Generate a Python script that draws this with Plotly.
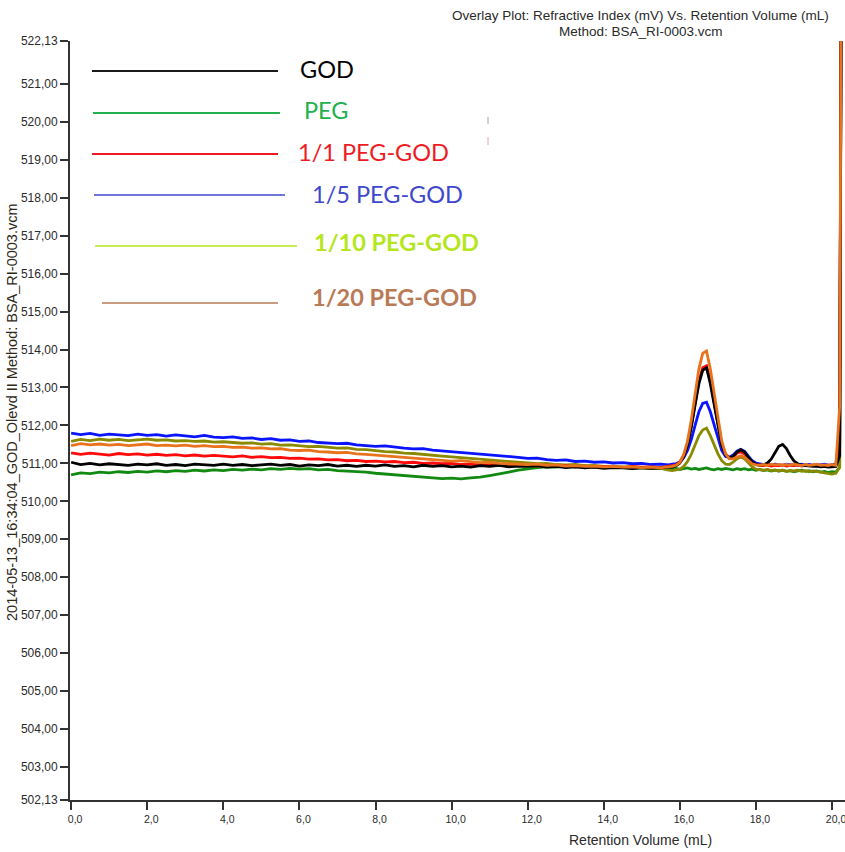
import numpy as np
import plotly.graph_objects as go

# ---------------------------------------------------------------------------
# Refractive index detector signal (mV) vs. retention volume (mL)
# Baseline region sampled every 0.25 mL, peak region every 0.1 mL,
# followed by the solvent front at the end of the run.
# ---------------------------------------------------------------------------
vol_base = np.round(np.arange(0.0, 15.5 + 1e-9, 0.25), 2)
vol_peak = np.round(np.arange(15.6, 20.1 + 1e-9, 0.1), 2)
vol_front = [20.2, 20.26]

god_base = [511.03, 510.97, 511.00, 510.96, 510.99, 510.97, 510.95, 510.98, 510.96, 510.99, 510.95, 510.97, 510.94, 510.98, 510.96, 510.95,
            510.98, 510.95, 510.97, 510.94, 510.96, 510.98, 510.95, 510.97, 510.93, 510.96, 510.94, 510.97, 510.93, 510.95, 510.92, 510.95,
            510.93, 510.96, 510.92, 510.94, 510.91, 510.95, 510.92, 510.94, 510.91, 510.93, 510.90, 510.94, 510.92, 510.95, 510.91, 510.93,
            510.92, 510.94, 510.90, 510.92, 510.89, 510.91, 510.88, 510.90, 510.87, 510.89, 510.88, 510.86, 510.89, 510.87, 510.88]
god_peak = [510.89, 510.91, 510.90, 510.94, 511.01, 511.18, 511.48, 511.95, 512.54, 513.10,
            513.45, 513.52, 513.10, 512.54, 511.95, 511.49, 511.23, 511.14, 511.18, 511.30,
            511.36, 511.30, 511.16, 511.04, 510.97, 510.95, 510.96, 511.01, 511.11, 511.28,
            511.45, 511.50, 511.39, 511.21, 511.06, 510.99, 510.95, 510.94, 510.93, 510.92,
            510.93, 510.91, 510.92, 510.90, 510.91, 510.92]
god_front = [511.20, 530.0]

peg_base = [510.70, 510.75, 510.73, 510.77, 510.75, 510.78, 510.76, 510.79, 510.77, 510.80, 510.78, 510.81, 510.79, 510.82, 510.80, 510.83,
            510.81, 510.84, 510.82, 510.85, 510.83, 510.86, 510.84, 510.87, 510.85, 510.86, 510.83, 510.84, 510.81, 510.80, 510.78, 510.77,
            510.74, 510.72, 510.70, 510.67, 510.66, 510.63, 510.62, 510.60, 510.61, 510.59, 510.62, 510.64, 510.68, 510.72, 510.77, 510.82,
            510.86, 510.89, 510.91, 510.90, 510.93, 510.91, 510.92, 510.90, 510.92, 510.89, 510.90, 510.87, 510.88, 510.86, 510.87]
peg_peak = [510.86, 510.88, 510.85, 510.87, 510.84, 510.86, 510.88, 510.85, 510.87, 510.84,
            510.86, 510.88, 510.85, 510.83, 510.86, 510.84, 510.87, 510.85, 510.83, 510.86,
            510.84, 510.86, 510.83, 510.85, 510.82, 510.84, 510.81, 510.83, 510.80, 510.82,
            510.80, 510.82, 510.79, 510.81, 510.78, 510.80, 510.82, 510.79, 510.81, 510.78,
            510.80, 510.77, 510.79, 510.76, 510.78, 510.77]
peg_front = [510.90, 530.0]

r1_1_base = [511.28, 511.24, 511.27, 511.25, 511.22, 511.26, 511.23, 511.25, 511.22, 511.24, 511.21, 511.23, 511.20, 511.22, 511.19, 511.21,
             511.19, 511.17, 511.20, 511.16, 511.18, 511.15, 511.16, 511.13, 511.14, 511.11, 511.12, 511.09, 511.10, 511.07, 511.08, 511.05,
             511.06, 511.04, 511.05, 511.02, 511.03, 511.00, 511.01, 510.99, 511.00, 510.97, 510.98, 510.96, 510.97, 510.95, 510.96, 510.94,
             510.95, 510.93, 510.95, 510.92, 510.94, 510.91, 510.93, 510.90, 510.92, 510.91, 510.89, 510.92, 510.90, 510.91, 510.89]
r1_1_peak = [510.91, 510.93, 510.93, 510.96, 511.04, 511.20, 511.51, 511.99, 512.59, 513.16,
             513.52, 513.57, 513.16, 512.59, 511.99, 511.51, 511.25, 511.15, 511.17, 511.27,
             511.30, 511.25, 511.13, 511.03, 510.97, 510.96, 510.94, 510.96, 510.93, 510.95,
             510.94, 510.96, 510.93, 510.95, 510.94, 510.96, 510.93, 510.95, 510.94, 510.96,
             510.93, 510.95, 510.94, 510.96, 510.93, 510.95]
r1_1_front = [511.50, 530.0]

r1_5_base = [511.80, 511.76, 511.79, 511.74, 511.77, 511.75, 511.73, 511.77, 511.74, 511.76, 511.72, 511.75, 511.73, 511.70, 511.74, 511.69,
             511.68, 511.70, 511.66, 511.67, 511.63, 511.65, 511.61, 511.62, 511.58, 511.59, 511.55, 511.54, 511.52, 511.53, 511.49, 511.47,
             511.45, 511.46, 511.42, 511.40, 511.38, 511.39, 511.35, 511.33, 511.32, 511.29, 511.27, 511.25, 511.22, 511.20, 511.18, 511.16,
             511.13, 511.14, 511.10, 511.08, 511.09, 511.05, 511.06, 511.03, 511.04, 511.01, 511.02, 510.99, 511.00, 510.97, 510.98]
r1_5_peak = [510.97, 510.96, 510.98, 510.99, 511.04, 511.15, 511.34, 511.63, 512.00, 512.36,
             512.58, 512.61, 512.36, 512.01, 511.64, 511.34, 511.18, 511.16, 511.22, 511.32,
             511.37, 511.32, 511.19, 511.07, 511.01, 510.98, 510.97, 510.99, 510.96, 510.98,
             510.97, 510.95, 510.98, 510.96, 510.97, 510.95, 510.98, 510.96, 510.97, 510.95,
             510.97, 510.96, 510.98, 510.95, 510.97, 510.98]
r1_5_front = [511.70, 530.0]

r1_10_base = [511.58, 511.63, 511.60, 511.64, 511.61, 511.63, 511.60, 511.62, 511.64, 511.61, 511.62, 511.59, 511.60, 511.58, 511.59, 511.56,
              511.57, 511.55, 511.53, 511.54, 511.51, 511.52, 511.48, 511.49, 511.46, 511.44, 511.45, 511.42, 511.40, 511.41, 511.37, 511.36,
              511.33, 511.31, 511.30, 511.27, 511.26, 511.23, 511.22, 511.19, 511.17, 511.15, 511.14, 511.11, 511.10, 511.07, 511.06, 511.03,
              511.01, 510.99, 511.00, 510.97, 510.96, 510.97, 510.94, 510.95, 510.92, 510.93, 510.90, 510.91, 510.88, 510.86, 510.87]
r1_10_peak = [510.84, 510.82, 510.81, 510.82, 510.85, 510.92, 511.05, 511.24, 511.49, 511.73,
              511.88, 511.93, 511.73, 511.49, 511.25, 511.07, 510.98, 510.97, 511.03, 511.12,
              511.17, 511.12, 511.01, 510.91, 510.85, 510.83, 510.82, 510.84, 510.81, 510.83,
              510.80, 510.82, 510.79, 510.81, 510.80, 510.82, 510.79, 510.81, 510.78, 510.80,
              510.79, 510.77, 510.75, 510.74, 510.72, 510.74]
r1_10_front = [510.90, 530.0]

r1_20_base = [511.47, 511.52, 511.49, 511.51, 511.48, 511.50, 511.47, 511.49, 511.51, 511.47, 511.48, 511.46, 511.48, 511.45, 511.47, 511.44,
              511.45, 511.42, 511.43, 511.40, 511.41, 511.38, 511.39, 511.35, 511.34, 511.35, 511.31, 511.30, 511.28, 511.29, 511.25, 511.24,
              511.22, 511.20, 511.19, 511.16, 511.15, 511.12, 511.11, 511.08, 511.06, 511.07, 511.04, 511.02, 511.03, 511.00, 510.99, 510.98,
              510.97, 510.98, 510.95, 510.96, 510.93, 510.94, 510.92, 510.93, 510.91, 510.92, 510.90, 510.91, 510.89, 510.90, 510.88]
r1_20_peak = [510.90, 510.91, 510.92, 510.95, 511.03, 511.23, 511.58, 512.14, 512.83, 513.49,
              513.90, 513.96, 513.49, 512.83, 512.14, 511.59, 511.25, 511.12, 511.12, 511.17,
              511.20, 511.16, 511.07, 510.99, 510.96, 510.95, 510.97, 510.95, 510.98, 510.96,
              510.97, 510.94, 510.97, 510.95, 510.98, 510.96, 510.94, 510.97, 510.95, 510.96,
              510.98, 510.95, 510.96, 510.94, 510.97, 510.95]
r1_20_front = [512.50, 530.0]

# Axis ticks (mV on the y axis, mL on the x axis)
y_tick_vals = [502.13] + list(range(503, 522)) + [522.13]
y_tick_text = ["502,13"] + [f"{v},00" for v in range(503, 522)] + ["522,13"]
x_tick_vals = list(range(0, 21, 2))
x_tick_text = [f"{v},0" for v in x_tick_vals]

# Legend entries drawn as a hand-made key
legend_labels = ["GOD", "PEG", "1/1 PEG-GOD", "1/5 PEG-GOD", "1/10 PEG-GOD", "1/20 PEG-GOD"]

# Trace data: (name, baseline, peak, front, line colour); drawn in this order
series = [
    ("PEG", peg_base, peg_peak, peg_front, "#128a12"),
    ("1/10 PEG-GOD", r1_10_base, r1_10_peak, r1_10_front, "#8a8a00"),
    ("1/5 PEG-GOD", r1_5_base, r1_5_peak, r1_5_front, "#0a14ff"),
    ("1/1 PEG-GOD", r1_1_base, r1_1_peak, r1_1_front, "#ff0a0a"),
    ("GOD", god_base, god_peak, god_front, "#000000"),
    ("1/20 PEG-GOD", r1_20_base, r1_20_peak, r1_20_front, "#e8731c"),
]

volume = np.concatenate([vol_base, vol_peak, vol_front])

fig = go.Figure()
for name, base, peak, front, colour in series:
    assert len(base) == len(vol_base) and len(peak) == len(vol_peak), name
    signal = np.concatenate([base, peak, front])
    fig.add_trace(go.Scatter(
        x=volume, y=signal, mode="lines", name=name,
        line=dict(color=colour, width=2.8),
        showlegend=False, hoverinfo="skip",
    ))

# Plot-area geometry in pixels (for placing the key and the labels)
W, H = 845, 852
L, R, T, B = 70, 845, 41, 800


def px(x):
    return (x - L) / (R - L)


def py(y):
    return (B - y) / (B - T)


SANS = "Liberation Sans, Arial, sans-serif"
axis_font = dict(family=SANS, size=12, color="#2a2a2a")

fig.update_layout(
    width=W, height=H,
    margin=dict(l=L, r=W - R, t=T, b=H - B, pad=0),
    paper_bgcolor="white", plot_bgcolor="white",
    xaxis=dict(
        range=[-0.03, 20.34], showgrid=False, zeroline=False,
        showline=True, linecolor="#333333", linewidth=2,
        ticks="outside", ticklen=8, tickwidth=2, tickcolor="#333333",
        tickvals=x_tick_vals, ticktext=x_tick_text,
        tickfont=dict(family=SANS, size=10.5, color="#2a2a2a"),
        ticklabelshift=4, ticklabeloverflow="allow",
    ),
    yaxis=dict(
        range=[502.13, 522.13], showgrid=False, zeroline=False,
        showline=True, linecolor="#333333", linewidth=2,
        ticks="outside", ticklen=8, tickwidth=2, tickcolor="#333333",
        tickvals=y_tick_vals, ticktext=y_tick_text, tickfont=axis_font,
    ),
)

annotations = [
    dict(text="Overlay Plot: Refractive Index (mV) Vs. Retention Volume (mL)",
         x=px(640), y=py(15), xanchor="center", yanchor="middle",
         font=dict(family=SANS, size=13.5, color="#2a2a2a")),
    dict(text="Method: BSA_RI-0003.vcm",
         x=px(641), y=py(31), xanchor="center", yanchor="middle",
         font=dict(family=SANS, size=13.5, color="#2a2a2a")),
    dict(text="Retention Volume (mL)",
         x=px(640), y=py(840), xanchor="center", yanchor="middle",
         font=dict(family=SANS, size=14, color="#2a2a2a")),
    dict(text="2014-05-13_16:34:04_GOD_Olevd II Method: BSA_RI-0003.vcm",
         x=px(12), y=py(412), xanchor="center", yanchor="middle", textangle=-90,
         font=dict(family=SANS, size=14.5, color="#2e2818")),
]

# Hand-made key: line segment + label for each sample
key_text_colour = ["#000000", "#22b14c", "#ed1c24", "#3f48cc", "#b5e61d", "#b97a57"]
key_line_colour = ["#1a1a1a", "#22b14c", "#ed1c24", "#3f48cc", "#b5e61d", "#b97a57"]
key_bold = [False, False, False, False, True, True]
key_line_px = [(92, 278, 71), (93, 280, 113), (92, 278, 154), (94, 285, 195), (95, 297, 246), (102, 278, 303)]
key_text_px = [(298, 69), (302, 110), (296, 152), (310, 194), (312, 242), (310, 297)]
key_line_w = [2, 2, 2, 1.6, 1.6, 1.3]

shapes = []
for label, tc, lc, bold, (x0, x1, ly), (tx, ty), lw in zip(
        legend_labels, key_text_colour, key_line_colour, key_bold, key_line_px, key_text_px, key_line_w):
    shapes.append(dict(type="line", xref="paper", yref="paper",
                       x0=px(x0), x1=px(x1), y0=py(ly), y1=py(ly),
                       line=dict(color=lc, width=lw)))
    annotations.append(dict(
        text=f"<b>{label}</b>" if bold else label,
        x=px(tx), y=py(ty), xanchor="left", yanchor="middle",
        font=dict(family="Lato, Open Sans, sans-serif", size=23.5, color=tc)))

# two faint stray marks next to the key
shapes.append(dict(type="line", xref="paper", yref="paper", x0=px(488), x1=px(488),
                   y0=py(117), y1=py(124), line=dict(color="#9aa8a0", width=1)))
shapes.append(dict(type="line", xref="paper", yref="paper", x0=px(488), x1=px(488),
                   y0=py(137), y1=py(145), line=dict(color="#e6a0b0", width=1)))

for a in annotations:
    a.setdefault("xref", "paper")
    a.setdefault("yref", "paper")
    a["showarrow"] = False

fig.update_layout(annotations=annotations, shapes=shapes)

fig.write_html("out.html")
